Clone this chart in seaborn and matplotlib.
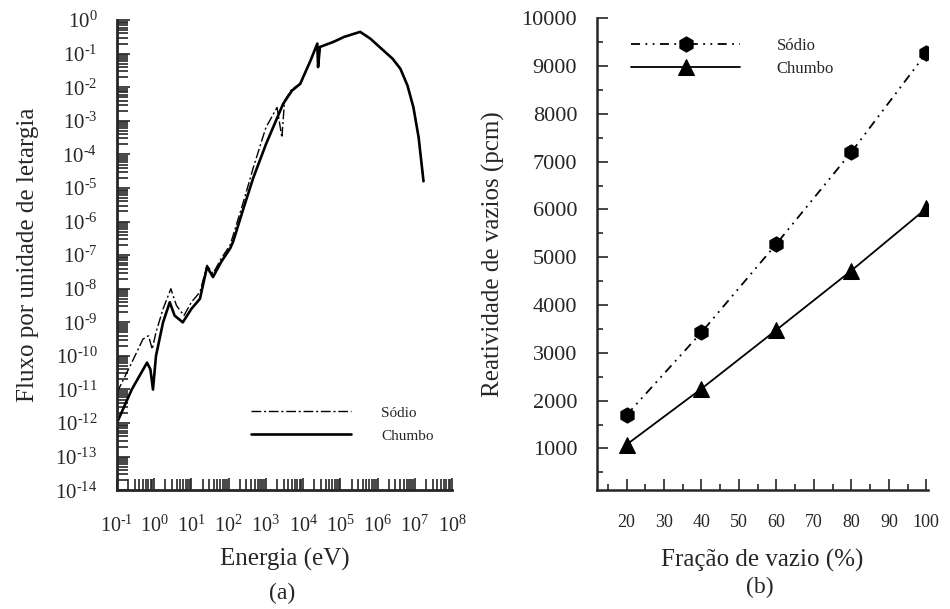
import matplotlib
matplotlib.use('Agg')
import matplotlib.pyplot as plt
import matplotlib.ticker as mticker
import seaborn as sns
import pandas as pd
import numpy as np

# (a) espectro de fluxo: expoentes (log10 E, log10 fluxo)
chumbo_logE = [-1.0, -0.6, -0.19, -0.10, -0.03, 0.05, 0.24, 0.42, 0.55, 0.77, 1.0, 1.23,
               1.42, 1.58, 1.8, 2.04, 2.12, 2.4, 2.66, 3.0, 3.46, 3.7, 3.92, 4.2, 4.38,
               4.40, 4.45, 4.81, 5.1, 5.53, 5.8, 6.2, 6.4, 6.61, 6.8, 6.96, 7.1, 7.23]
chumbo_logF = [-12.0, -11.0, -10.2, -10.4, -11.0, -10.0, -9.0, -8.4, -8.8, -9.0, -8.6, -8.3,
               -7.35, -7.65, -7.2, -6.8, -6.6, -5.6, -4.7, -3.7, -2.5, -2.1, -1.9, -1.2, -0.7,
               -1.4, -0.8, -0.65, -0.5, -0.35, -0.55, -0.95, -1.15, -1.45, -1.95, -2.6, -3.5, -4.8]
sodio_logE = [-1.0, -0.6, -0.3, -0.15, -0.05, 0.05, 0.24, 0.45, 0.6, 0.8, 1.0, 1.23,
              1.42, 1.58, 1.8, 2.04, 2.4, 2.66, 3.0, 3.3, 3.43, 3.5, 3.7, 3.92, 4.2, 4.38,
              4.40, 4.45, 4.81, 5.1, 5.53, 5.8, 6.2, 6.4, 6.61, 6.8, 6.96, 7.1, 7.23]
sodio_logF = [-11.1, -10.2, -9.5, -9.4, -9.8, -9.3, -8.6, -8.0, -8.5, -8.8, -8.4, -8.1,
              -7.3, -7.55, -7.1, -6.7, -5.4, -4.4, -3.2, -2.6, -3.5, -2.4, -2.05, -1.9, -1.2, -0.7,
              -1.4, -0.8, -0.65, -0.5, -0.35, -0.55, -0.95, -1.15, -1.45, -1.95, -2.6, -3.5, -4.8]
expoentes_x = list(range(-1, 9))
expoentes_y = list(range(-14, 1))

# (b) reatividade de vazios
fracao = [20, 40, 60, 80, 100]
reat_sodio = [1700, 3430, 5280, 7200, 9270]
reat_chumbo = [1080, 2250, 3480, 4720, 6020]

sns.set_style('ticks')
plt.rcParams['font.family'] = ['Liberation Serif', 'DejaVu Serif']
plt.rcParams['mathtext.fontset'] = 'custom'
plt.rcParams['mathtext.rm'] = 'Liberation Serif'
plt.rcParams['mathtext.it'] = 'Liberation Serif:italic'


# rótulos 10^n com hífen curto, como no original
def pot10(v, pos):
    n = int(round(np.log10(v)))
    if n < 0:
        return r'$\mathdefault{10^{\text{-}%d}}$' % (-n)
    return r'$\mathdefault{10^{%d}}$' % n


fig = plt.figure(figsize=(9.5, 6.09), dpi=100)
ax1 = fig.add_axes([0.123, 0.195, 0.353, 0.772])
ax2 = fig.add_axes([0.628, 0.195, 0.349, 0.775])

# ---- painel (a)
df_s = pd.DataFrame({'E': 10.0 ** np.array(sodio_logE), 'F': 10.0 ** np.array(sodio_logF)})
df_c = pd.DataFrame({'E': 10.0 ** np.array(chumbo_logE), 'F': 10.0 ** np.array(chumbo_logF)})
sns.lineplot(data=df_s, x='E', y='F', ax=ax1, sort=False, color='black', lw=1.0,
             label='Sódio')
sns.lineplot(data=df_c, x='E', y='F', ax=ax1, sort=False, color='black', lw=1.9,
             label='Chumbo')
ax1.lines[0].set_dashes([7, 2, 1.5, 2])
ax1.set_xscale('log')
ax1.set_yscale('log')
ax1.set_xlim(1e-1, 1e8)
ax1.set_ylim(1e-14, 1e0)
ax1.xaxis.set_major_locator(mticker.FixedLocator(10.0 ** np.array(expoentes_x)))
ax1.yaxis.set_major_locator(mticker.FixedLocator(10.0 ** np.array(expoentes_y)))
ax1.xaxis.set_minor_locator(mticker.LogLocator(base=10, subs=np.arange(2, 10), numticks=100))
ax1.yaxis.set_minor_locator(mticker.LogLocator(base=10, subs=np.arange(2, 10), numticks=100))
ax1.xaxis.set_major_formatter(mticker.FuncFormatter(pot10))
ax1.yaxis.set_major_formatter(mticker.FuncFormatter(pot10))
ax1.xaxis.set_minor_formatter(mticker.NullFormatter())
ax1.yaxis.set_minor_formatter(mticker.NullFormatter())
ax1.tick_params(which='both', direction='in', width=1.2)
ax1.tick_params(which='major', length=9)
ax1.tick_params(which='minor', length=8)
ax1.tick_params(axis='x', which='major', labelsize=14.5, pad=18)
ax1.tick_params(axis='y', which='major', labelsize=15, pad=14)
for s in ['top', 'right']:
    ax1.spines[s].set_visible(False)
for s in ['left', 'bottom']:
    ax1.spines[s].set_linewidth(2)
ax1.set_xlabel('Energia (eV)', fontsize=18, labelpad=8)
ax1.set_ylabel('Fluxo por unidade de letargia', fontsize=18, labelpad=12)
ax1.legend(loc='center left', bbox_to_anchor=(0.36, 0.14), frameon=False, fontsize=11,
           handlelength=6.5, handletextpad=2.0, labelspacing=0.6)
fig.text(0.297, 0.026, '(a)', ha='center', va='center', fontsize=17)

# ---- painel (b)
df_b = pd.DataFrame({'x': fracao + fracao,
                     'y': reat_sodio + reat_chumbo,
                     'serie': ['Sódio'] * 5 + ['Chumbo'] * 5})
sns.lineplot(data=df_b, x='x', y='y', hue='serie', style='serie', ax=ax2,
             palette={'Sódio': 'black', 'Chumbo': 'black'},
             dashes={'Sódio': (5, 3, 1, 3, 1, 3), 'Chumbo': ''},
             markers={'Sódio': 'h', 'Chumbo': '^'}, markersize=11, lw=1.3,
             markeredgecolor='black')
ax2.set_xlim(12, 100.5)
ax2.set_ylim(125, 10000)
ax2.set_xticks(np.arange(20, 101, 10))
ax2.set_yticks(np.arange(1000, 10001, 1000))
ax2.xaxis.set_minor_locator(mticker.MultipleLocator(5))
ax2.yaxis.set_minor_locator(mticker.MultipleLocator(500))
ax2.tick_params(which='both', direction='in', width=1.2)
ax2.tick_params(which='major', length=8)
ax2.tick_params(which='minor', length=4)
ax2.tick_params(axis='x', which='major', labelsize=13, pad=17)
ax2.tick_params(axis='y', which='major', labelsize=16, pad=14)
for s in ['top', 'right']:
    ax2.spines[s].set_visible(False)
for s in ['left', 'bottom']:
    ax2.spines[s].set_linewidth(1.8)
ax2.set_xlabel('Fração de vazio (%)', fontsize=18, labelpad=13)
ax2.set_ylabel('Reatividade de vazios (pcm)', fontsize=18, labelpad=12)
ax2.legend(loc='upper left', bbox_to_anchor=(0.06, 0.99), frameon=False, fontsize=12,
           handlelength=6.5, handletextpad=2.2, labelspacing=0.4, title=None)
fig.text(0.80, 0.036, '(b)', ha='center', va='center', fontsize=17)

fig.savefig('out.png', dpi=100)
